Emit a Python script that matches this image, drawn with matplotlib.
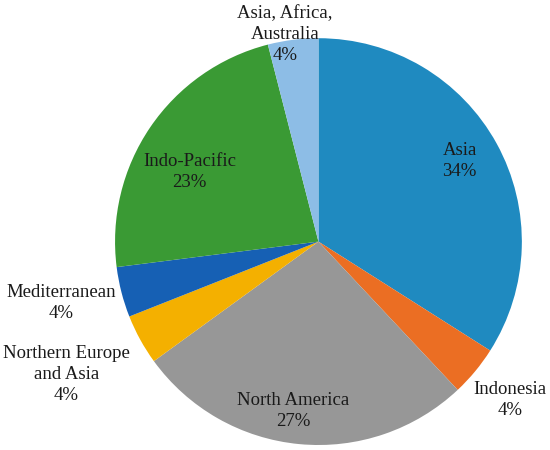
import numpy as np
import matplotlib
matplotlib.use("Agg")
import matplotlib.pyplot as plt

# Datos del gráfico
regions = ['Asia', 'Indonesia', 'North America', 'Northern Europe\nand Asia',
           'Mediterranean', 'Indo-Pacific', 'Asia, Africa,\nAustralia']
shares = [34, 4, 27, 4, 4, 23, 4]
colors = ['#1F8AC0', '#EB6E23', '#979797', '#F4B000', '#1660B4', '#3A9A34', '#8DBDE6']
# distancia radial de cada etiqueta (fracción del radio)
label_dist = [0.80, 1.22, 0.84, 1.40, 1.30, 0.72, 1.03]
label_shift = [1, 0, -3, -1, -1, 6, 2]  # grados

plt.rcParams['font.family'] = ['Liberation Serif', 'DejaVu Serif']

fig = plt.figure(figsize=(5.5, 4.5), dpi=100)
ax = fig.add_axes([0.209, 0.0111, 0.740, 0.904])

wedges, _ = ax.pie(shares, colors=colors, startangle=90, counterclock=False,
                   wedgeprops=dict(linewidth=0))
ax.set_xlim(-1, 1)
ax.set_ylim(-1, 1)
ax.set_aspect('equal')

for w, name, val, d, s in zip(wedges, regions, shares, label_dist, label_shift):
    ang = np.deg2rad((w.theta1 + w.theta2) / 2 + s)
    ax.text(d * np.cos(ang), d * np.sin(ang), f'{name}\n{val}%',
            ha='center', va='center', fontsize=13.5, color='#1a1a1a',
            linespacing=1.3, clip_on=False)

fig.savefig('out.png', dpi=100)
